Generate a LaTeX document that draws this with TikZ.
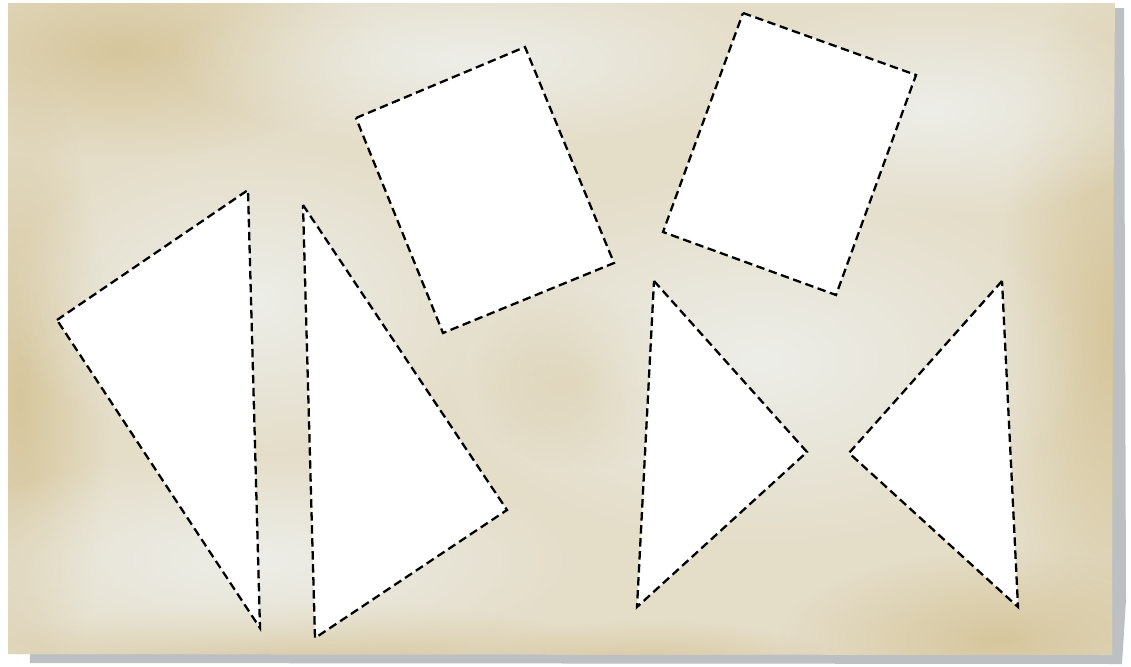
\documentclass[tikz,border=0pt]{standalone}
\usepackage{tikz}
\usetikzlibrary{calc,fadings}
\definecolor{parch}{HTML}{D6C69C}
\definecolor{parchmid}{HTML}{E4DDC8}
\definecolor{parchlight}{HTML}{EDEEE9}
\definecolor{papershadow}{HTML}{BDC0C3}
\tikzfading[name=softblob, inner color=transparent!0, outer color=transparent!100]

\begin{document}
\begin{tikzpicture}[
    x=0.02cm, y=-0.02cm,
    piece/.style={draw=black, fill=white, line width=1.3pt, dash pattern=on 4.8pt off 2.6pt, line join=miter},
    light/.style={fill=parchlight, path fading=softblob},
    dark/.style={fill=parch, path fading=softblob}
  ]
    \useasboundingbox (0,0) rectangle (1131,666);
    \fill[white] (0,0) rectangle (1131,666);

    % paper shadow and sheet
    \fill[papershadow] (14,12) -- (1124,8) -- (1126,600) -- (1122,664) -- (30,663) -- cycle;
    \fill[parchmid] (8,3) -- (1115,3) -- (1112,330) -- (1112,655) -- (8,654) -- cycle;
    \begin{scope}
      \clip (8,3) -- (1115,3) -- (1112,655) -- (8,654) -- cycle;
      \fill[dark] (120,50) ellipse (260 and 110);
      \fill[dark] (20,400) ellipse (90 and 330);
      \fill[dark] (1110,330) ellipse (110 and 380);
      \fill[dark] (1000,640) ellipse (220 and 90);
      \fill[dark] (300,660) ellipse (320 and 60);
      \fill[dark] (650,670) ellipse (200 and 50);
      \fill[dark] (580,380) ellipse (110 and 90);
      \fill[light] (470,60) ellipse (300 and 90);
      \fill[light] (930,110) ellipse (250 and 110);
      \fill[light] (250,560) ellipse (330 and 110);
      \fill[light] (760,360) ellipse (330 and 190);
      \fill[light] (250,300) ellipse (250 and 160);
    \end{scope}

    % tangram pieces
    \draw[piece] (57,320) -- (248,190) -- (260,628) -- cycle;
    \draw[piece] (303,205) -- (507,510) -- (315,638) -- cycle;
    \draw[piece] (356,118) -- (525,47) -- (614,263) -- (443,333) -- cycle;
    \draw[piece] (743,13) -- (916,75) -- (836,295) -- (663,232) -- cycle;
    \draw[piece] (654,281) -- (807,452) -- (637,607) -- cycle;
    \draw[piece] (1002,281) -- (849,453) -- (1018,607) -- cycle;
\end{tikzpicture}
\end{document}
